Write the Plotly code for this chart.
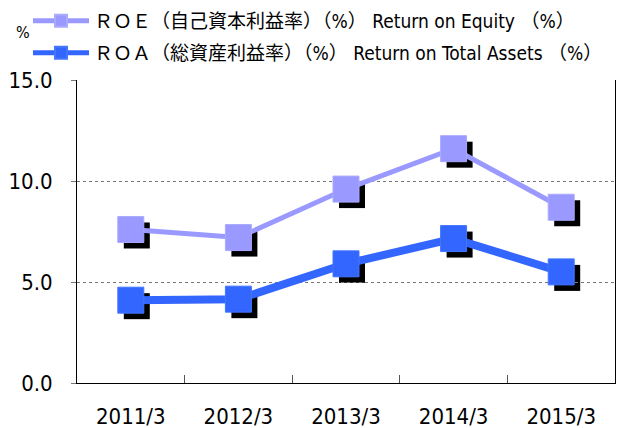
import plotly.graph_objects as go

categories = ["2011/3", "2012/3", "2013/3", "2014/3", "2015/3"]
roe = [7.6, 7.2, 9.6, 11.6, 8.7]
roa = [4.1, 4.15, 5.9, 7.15, 5.5]
roe_name = "ＲＯＥ（自己資本利益率）（%） Return on Equity （%）"
roa_name = "ＲＯＡ（総資産利益率）（%） Return on Total Assets （%）"
y_ticks = [0, 5, 10, 15]

ROE_COLOR = "#9999FF"
ROA_COLOR = "#3366FF"
FONT = "Liberation Sans Narrow, DejaVu Sans Condensed, Liberation Sans, Noto Sans CJK JP, sans-serif"

W, H = 620, 428
ML, MR, MT, MB = 77, 0, 80, 39
shadow_px = 6
cw = W - ML - MR          # container width
ch = H - MT - MB          # container height
plot_w = cw - shadow_px + 1   # visible plot area width (77..615)
plot_h = ch - shadow_px       # visible plot area height (80..383)
n = len(categories)
ymin, ymax = 0, 15
px_per_cat = plot_w / n

vis_xdom = [0, plot_w / cw]
vis_ydom = [shadow_px / ch, 1]
sh_xdom = [shadow_px / cw, 1]
sh_ydom = [0, plot_h / ch]
sh_xrange = [-0.5, -0.5 + (cw - shadow_px) / px_per_cat]

fig = go.Figure()

# drop shadows (hidden axes, domain shifted right/down)
for vals in (roe, roa):
    fig.add_trace(go.Scatter(
        x=categories, y=vals, xaxis="x", yaxis="y", mode="markers",
        marker=dict(symbol="square", size=26, color="black", line=dict(width=0)),
        showlegend=False, hoverinfo="skip", cliponaxis=False))

fig.add_trace(go.Scatter(
    x=categories, y=roe, xaxis="x2", yaxis="y2", mode="lines+markers", name=roe_name,
    line=dict(color=ROE_COLOR, width=5),
    marker=dict(symbol="square", size=26, color=ROE_COLOR, line=dict(width=1, color="#AAAAFF")),
    legend="legend", cliponaxis=False))
fig.add_trace(go.Scatter(
    x=categories, y=roa, xaxis="x2", yaxis="y2", mode="lines+markers", name=roa_name,
    line=dict(color=ROA_COLOR, width=8),
    marker=dict(symbol="square", size=26, color=ROA_COLOR, line=dict(width=1, color="#4477FF")),
    legend="legend2", cliponaxis=False))

legend_common = dict(
    xref="container", yref="container", xanchor="left", yanchor="middle",
    font=dict(family=FONT, size=19, color="black"),
    bgcolor="rgba(0,0,0,0)", itemwidth=56, borderwidth=0, itemsizing="constant",
)

fig.update_layout(
    width=W, height=H,
    margin=dict(l=ML, r=MR, t=MT, b=MB, pad=0, autoexpand=False),
    paper_bgcolor="white", plot_bgcolor="rgba(0,0,0,0)",
    font=dict(family=FONT, color="black"),
    showlegend=True,
    legend=dict(x=28 / W, y=1 - 21 / H, **legend_common),
    legend2=dict(x=28 / W, y=1 - 53 / H, **legend_common),
    xaxis=dict(type="category", categoryarray=categories, domain=sh_xdom, anchor="y",
               range=sh_xrange, visible=False, fixedrange=True),
    yaxis=dict(domain=sh_ydom, anchor="x", range=[ymin, ymax], visible=False, fixedrange=True),
    xaxis2=dict(type="category", categoryarray=categories, domain=vis_xdom, anchor="y2",
                range=[-0.5, n - 0.5], showgrid=False, showline=True, linecolor="black",
                linewidth=1, ticks="inside", tickson="boundaries", ticklen=8,
                tickcolor="#555555", tickfont=dict(family=FONT, size=22, color="black"),
                ticklabelstandoff=14, automargin=False, fixedrange=True),
    yaxis2=dict(domain=vis_ydom, anchor="x2", range=[ymin, ymax], tickvals=y_ticks,
                tickformat=".1f", showgrid=True, gridcolor="#777777", griddash="dot",
                gridwidth=1, showline=True, mirror=True, linecolor="black", linewidth=1,
                ticks="outside", ticklen=5, tickcolor="#777777",
                tickfont=dict(family=FONT, size=22, color="black"),
                ticklabelstandoff=14, zeroline=False, automargin=False, fixedrange=True),
    annotations=[dict(text="%", xref="paper", yref="paper",
                      x=(23 - ML) / cw, y=(H - MB - 33) / ch,
                      xanchor="center", yanchor="middle",
                      showarrow=False, font=dict(family=FONT, size=16, color="black"))],
)

fig.write_html("out.html", config={"displayModeBar": False},
               post_script="document.body.style.margin='0';document.body.style.padding='0';")
